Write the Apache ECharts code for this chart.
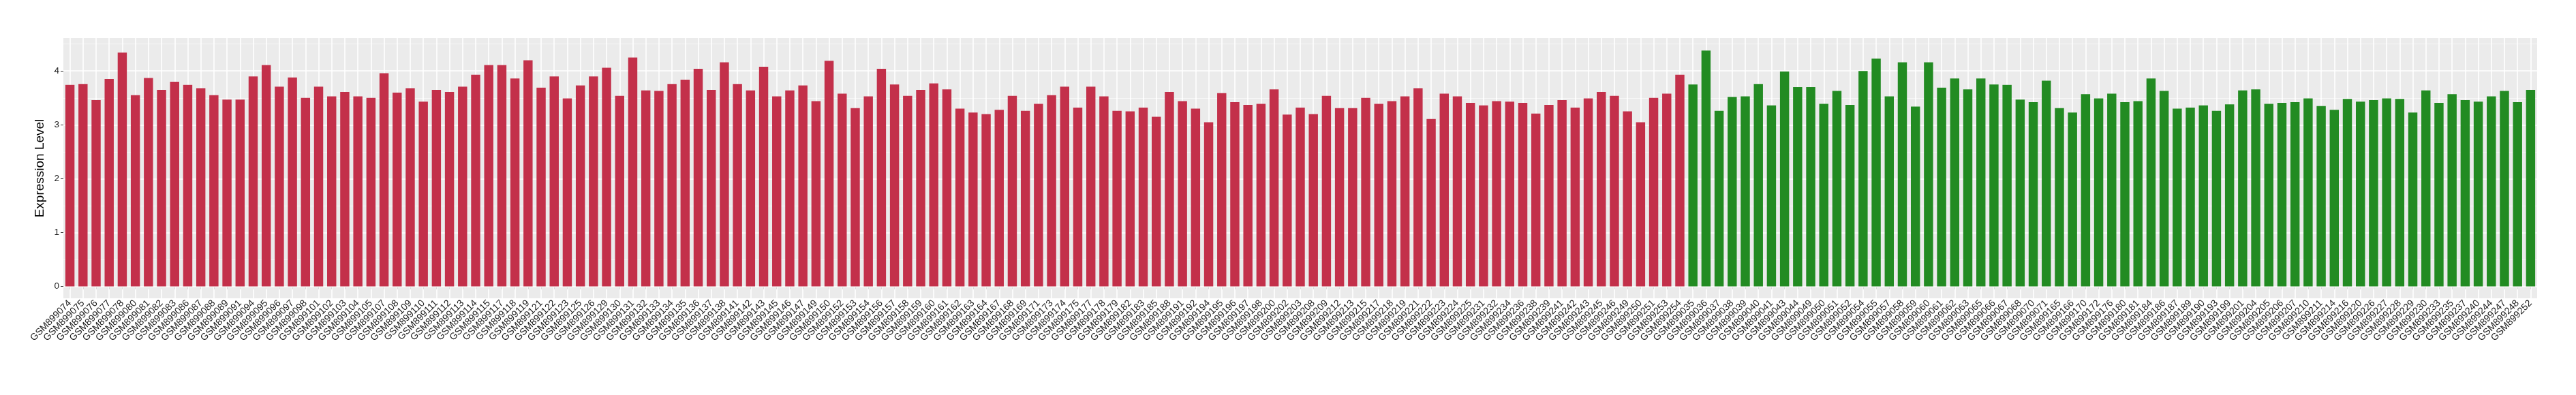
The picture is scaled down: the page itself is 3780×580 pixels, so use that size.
<!DOCTYPE html>
<html><head><meta charset="utf-8">
<script src="https://cdn.jsdelivr.net/npm/echarts@6/dist/echarts.min.js"></script>
<style>html,body{margin:0;padding:0;background:#fff}#c{width:3780px;height:580px}</style>
</head><body><div id="c"></div>
<script>
const redSamples = ['GSM899074','GSM899075','GSM899076','GSM899077','GSM899078','GSM899080','GSM899081','GSM899082','GSM899083','GSM899086','GSM899087','GSM899088','GSM899089','GSM899091','GSM899094','GSM899095','GSM899096','GSM899097','GSM899098','GSM899101','GSM899102','GSM899103','GSM899104','GSM899105','GSM899107','GSM899108','GSM899109','GSM899110','GSM899111','GSM899112','GSM899113','GSM899114','GSM899115','GSM899117','GSM899118','GSM899119','GSM899121','GSM899122','GSM899123','GSM899125','GSM899126','GSM899129','GSM899130','GSM899131','GSM899132','GSM899133','GSM899134','GSM899135','GSM899136','GSM899137','GSM899138','GSM899141','GSM899142','GSM899143','GSM899145','GSM899146','GSM899147','GSM899149','GSM899150','GSM899152','GSM899153','GSM899154','GSM899156','GSM899157','GSM899158','GSM899159','GSM899160','GSM899161','GSM899162','GSM899163','GSM899164','GSM899167','GSM899168','GSM899169','GSM899171','GSM899173','GSM899174','GSM899175','GSM899177','GSM899178','GSM899179','GSM899182','GSM899183','GSM899185','GSM899188','GSM899191','GSM899192','GSM899194','GSM899195','GSM899196','GSM899197','GSM899198','GSM899200','GSM899202','GSM899203','GSM899208','GSM899209','GSM899212','GSM899213','GSM899215','GSM899217','GSM899218','GSM899219','GSM899221','GSM899222','GSM899223','GSM899224','GSM899225','GSM899231','GSM899232','GSM899234','GSM899236','GSM899238','GSM899239','GSM899241','GSM899242','GSM899243','GSM899245','GSM899246','GSM899249','GSM899250','GSM899251','GSM899253','GSM899254'];
const redValues = [3.74,3.76,3.46,3.85,4.34,3.55,3.87,3.65,3.80,3.74,3.68,3.55,3.47,3.47,3.90,4.11,3.71,3.88,3.50,3.71,3.53,3.61,3.53,3.50,3.96,3.60,3.68,3.43,3.65,3.61,3.71,3.93,4.11,4.11,3.86,4.20,3.69,3.90,3.49,3.73,3.90,4.06,3.54,4.25,3.64,3.63,3.76,3.84,4.04,3.65,4.16,3.76,3.64,4.08,3.53,3.64,3.73,3.44,4.19,3.58,3.31,3.53,4.04,3.75,3.54,3.65,3.77,3.66,3.30,3.23,3.20,3.28,3.54,3.26,3.39,3.55,3.71,3.32,3.71,3.53,3.26,3.25,3.32,3.15,3.61,3.44,3.30,3.05,3.59,3.42,3.37,3.39,3.66,3.19,3.32,3.20,3.54,3.31,3.31,3.50,3.39,3.44,3.53,3.68,3.11,3.58,3.53,3.41,3.36,3.44,3.43,3.41,3.21,3.37,3.46,3.32,3.49,3.61,3.54,3.25,3.05,3.50,3.58,3.93];
const greenSamples = ['GSM899035','GSM899036','GSM899037','GSM899038','GSM899039','GSM899040','GSM899041','GSM899043','GSM899044','GSM899049','GSM899050','GSM899051','GSM899052','GSM899054','GSM899055','GSM899057','GSM899058','GSM899059','GSM899060','GSM899061','GSM899062','GSM899063','GSM899065','GSM899066','GSM899067','GSM899068','GSM899070','GSM899071','GSM899165','GSM899166','GSM899170','GSM899172','GSM899176','GSM899180','GSM899181','GSM899184','GSM899186','GSM899187','GSM899189','GSM899190','GSM899193','GSM899199','GSM899201','GSM899204','GSM899205','GSM899206','GSM899207','GSM899210','GSM899211','GSM899214','GSM899216','GSM899220','GSM899226','GSM899227','GSM899228','GSM899229','GSM899230','GSM899233','GSM899235','GSM899237','GSM899240','GSM899244','GSM899247','GSM899248','GSM899252'];
const greenValues = [3.75,4.38,3.26,3.52,3.53,3.76,3.36,3.99,3.70,3.70,3.39,3.63,3.37,4.00,4.23,3.53,4.16,3.34,4.16,3.69,3.86,3.66,3.86,3.75,3.74,3.47,3.42,3.82,3.31,3.23,3.57,3.49,3.58,3.42,3.44,3.86,3.63,3.30,3.32,3.36,3.26,3.38,3.64,3.66,3.39,3.41,3.42,3.49,3.35,3.28,3.48,3.43,3.46,3.49,3.48,3.23,3.64,3.41,3.57,3.46,3.43,3.53,3.63,3.42,3.65];
const yTicks = [0, 1, 2, 3, 4];
const yMinor = [0.5, 1.5, 2.5, 3.5, 4.5];
const yTitle = 'Expression Level';

const RED = '#c3304a', GREEN = '#228b22';
const FONT = 'Liberation Sans, Arial, Helvetica, sans-serif';
const categories = redSamples.concat(greenSamples);
const barData = redValues.map(v => ({value: v, itemStyle: {color: RED}}))
  .concat(greenValues.map(v => ({value: v, itemStyle: {color: GREEN}})));
const markData = []
  .concat(yMinor.map(v => ({yAxis: v, lineStyle: {width: 0.8, color: '#fafafa', type: 'solid'}})))
  .concat(yTicks.map(v => ({yAxis: v, lineStyle: {width: 1.6, color: '#ffffff', type: 'solid'}})))
  .concat(categories.map(c => ({xAxis: c, lineStyle: {width: 1.6, color: '#ffffff', type: 'solid'}})));

const chart = echarts.init(document.getElementById('c'), null, {renderer: 'canvas'});
chart.setOption({
  animation: false,
  textStyle: {fontFamily: FONT},
  grid: {left: 93, right: 57, top: 56, bottom: 142, show: true, backgroundColor: '#ebebeb', borderWidth: 0, containLabel: false, outerBoundsMode: 'none'},
  xAxis: {
    type: 'category', data: categories,
    axisLine: {show: false},
    axisTick: {show: true, alignWithLabel: true, interval: 0, length: 4, lineStyle: {color: '#333', width: 1}},
    axisLabel: {interval: 0, rotate: 45, margin: 5, fontSize: 14, color: '#1a1a1a', fontFamily: FONT},
    splitLine: {show: false}
  },
  yAxis: {
    type: 'value', min: -0.22, max: 4.61,
    axisLine: {show: false},
    axisTick: {show: true, length: 4, customValues: yTicks, lineStyle: {color: '#333', width: 1}},
    axisLabel: {customValues: yTicks, fontSize: 13.5, margin: 6, color: '#1a1a1a', fontFamily: FONT},
    splitLine: {show: false},
    name: yTitle, nameLocation: 'middle', nameGap: 19,
    nameTextStyle: {fontSize: 19, color: '#000', fontFamily: FONT}
  },
  series: [{
    type: 'bar', data: barData, barWidth: '70%', z: 2,
    markLine: {silent: true, symbol: ['none', 'none'], label: {show: false}, emphasis: {disabled: true}, z: 1, animation: false, data: markData}
  }]
});
</script>
</body></html>
